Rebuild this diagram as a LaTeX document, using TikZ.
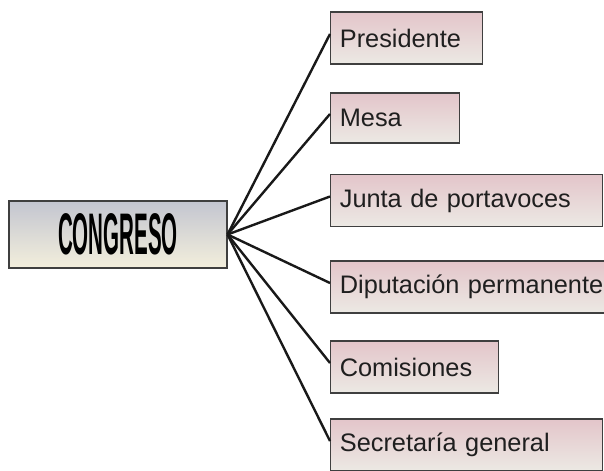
\documentclass[tikz,border=0pt]{standalone}
\usepackage{fontspec}
\setmainfont{Liberation Sans}
\usepackage{tikz}
\usetikzlibrary{positioning}

\definecolor{congtop}{HTML}{C3C5D0}
\definecolor{congbot}{HTML}{F3EFDC}
\definecolor{pinktop}{HTML}{E3C5CA}
\definecolor{pinkbot}{HTML}{ECE9E4}
\definecolor{borde}{HTML}{3F3F3F}

\begin{document}
\begin{tikzpicture}[x=0.75pt, y=-0.75pt,
	cargo/.style={draw=borde, line width=0.8pt, top color=pinktop, bottom color=pinkbot,
		anchor=west, text width=#1, align=left, inner xsep=7pt, minimum height=39pt,
		font=\fontsize{19}{22}\selectfont, text=black!88},
	linea/.style={line width=1.8pt, black!90}]
		\useasboundingbox (0,0) rectangle (604,471);

		\node[draw=borde, line width=0.8pt, top color=congtop, bottom color=congbot,
			minimum width=163.5pt, minimum height=50.25pt] (cong) at (118,234.5)
			{\scalebox{0.35}[1]{\fontsize{44}{44}\selectfont\bfseries CONGRESO}};

		\node[cargo=100pt] (pres) at (330,38) {Presidente};
		\node[cargo=83pt, minimum height=37.5pt] (mesa) at (330,118) {Mesa};
		\node[cargo=190pt] (junta) at (330,200.5) {Junta de portavoces};
		\node[cargo=200pt] (dip) at (330,287) {Diputación permanente};
		\node[cargo=112pt] (com) at (330,367) {Comisiones};
		\node[cargo=190pt] (sec) at (330,445) {Secretaría general};

		\foreach \n in {pres,mesa,junta,dip,com,sec}
			\draw[linea] (cong.east) -- ([yshift=3pt]\n.west);

	\end{tikzpicture}
\end{document}
